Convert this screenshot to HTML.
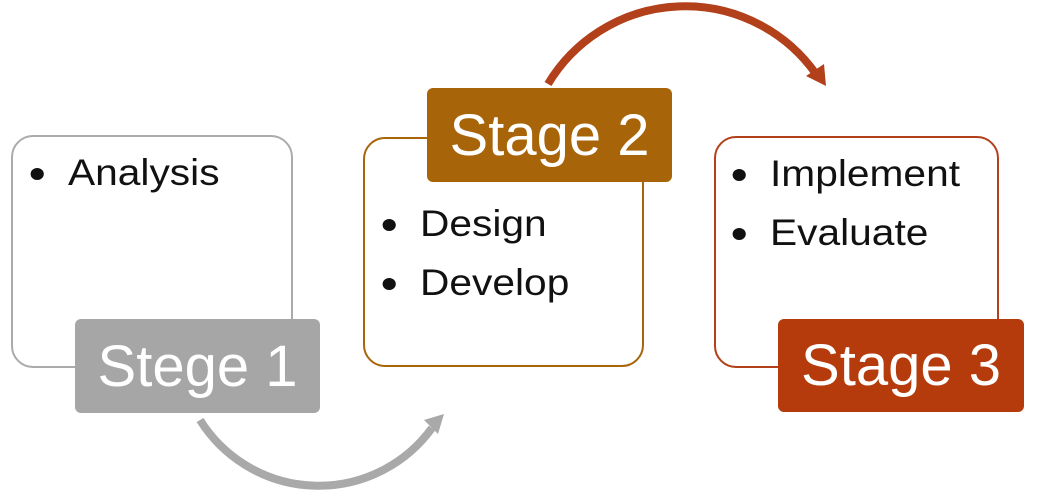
<!DOCTYPE html>
<html><head><style>
body{margin:0;width:1037px;height:496px;background:#fff;position:relative;overflow:hidden;font-family:"Liberation Sans",sans-serif}
.box{position:absolute;background:#fff;border-radius:22px;border:2px solid}
.lab{position:absolute;border-radius:6px;color:#fff;font-size:58px;display:flex;align-items:center;justify-content:center}
.t{position:absolute;font-size:37px;color:#111;white-space:nowrap;transform:scaleX(1.1);transform-origin:left}
.t b{position:absolute;left:-34px;top:16px;width:12px;height:12px;border-radius:50%;background:#111}
</style></head><body>
<svg width="1037" height="496" style="position:absolute;left:0;top:0">
<path d="M200,420 A140,140 0 0 0 432,428" fill="none" stroke="#a9a9a9" stroke-width="8"/>
<polygon points="444,414 424,420 438,434" fill="#a9a9a9"/>
<path d="M548,84 A160,160 0 0 1 816,74" fill="none" stroke="#b2401a" stroke-width="8"/>
<polygon points="826,86 806,76 824,64" fill="#b2401a"/>
</svg>
<div class="box" style="left:11px;top:135px;width:278px;height:229px;border-color:#ababab"></div>
<div class="box" style="left:363px;top:137px;width:277px;height:226px;border-color:#a8650a"></div>
<div class="box" style="left:714px;top:136px;width:281px;height:228px;border-color:#b2401a"></div>
<div class="t" style="left:68px;top:152px"><b></b>Analysis</div>
<div class="t" style="left:420px;top:203px"><b></b>Design</div>
<div class="t" style="left:420px;top:262px"><b></b>Develop</div>
<div class="t" style="left:770px;top:153px"><b></b>Implement</div>
<div class="t" style="left:770px;top:212px"><b></b>Evaluate</div>
<div class="lab" style="left:75px;top:319px;width:245px;height:94px;background:#a6a6a6">Stege 1</div>
<div class="lab" style="left:427px;top:88px;width:245px;height:94px;background:#a86408">Stage 2</div>
<div class="lab" style="left:778px;top:319px;width:246px;height:93px;background:#b53b0c">Stage 3</div>
</body></html>
